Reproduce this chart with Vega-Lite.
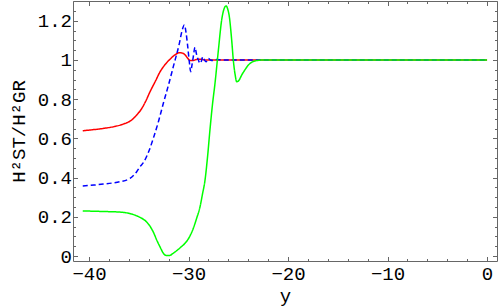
{
  "$schema": "https://vega.github.io/schema/vega-lite/v6.json",
  "autosize": "none",
  "width": 424,
  "height": 260,
  "padding": {"left": 73, "top": 1, "right": 2, "bottom": 47},
  "background": "white",
  "config": {
    "view": {"stroke": null},
    "axis": {"grid": false, "domainColor": "#666", "tickColor": "#666", "domainWidth": 1, "tickWidth": 1}
  },
  "data": {"values": [
    {"s":"a","x":-40.63,"v":0.639},{"s":"a","x":-39.5,"v":0.645},{"s":"a","x":-38.56,"v":0.651},{"s":"a","x":-37.5,"v":0.66},{"s":"a","x":-36.55,"v":0.673},{"s":"a","x":-35.71,"v":0.694},{"s":"a","x":-35.2,"v":0.72},{"s":"a","x":-34.8,"v":0.745},{"s":"a","x":-34.3,"v":0.79},{"s":"a","x":-33.87,"v":0.838},{"s":"a","x":-33.3,"v":0.895},{"s":"a","x":-32.86,"v":0.94},{"s":"a","x":-32.3,"v":0.98},{"s":"a","x":-31.86,"v":1.004},{"s":"a","x":-31.4,"v":1.025},{"s":"a","x":-30.92,"v":1.037},{"s":"a","x":-30.6,"v":1.035},{"s":"a","x":-30.35,"v":1.026},{"s":"a","x":-30.1,"v":1.01},{"s":"a","x":-29.85,"v":0.997},{"s":"a","x":-29.5,"v":0.998},{"s":"a","x":-29.18,"v":1.003},{"s":"a","x":-28.8,"v":1.004},{"s":"a","x":-28.3,"v":1.0},{"s":"a","x":-27,"v":1.0},{"s":"a","x":0,"v":1.0},
    {"s":"b","x":-40.63,"v":0.357},{"s":"b","x":-39.5,"v":0.362},{"s":"b","x":-38.56,"v":0.367},{"s":"b","x":-37.7,"v":0.372},{"s":"b","x":-36.88,"v":0.379},{"s":"b","x":-35.88,"v":0.396},{"s":"b","x":-35.21,"v":0.43},{"s":"b","x":-34.87,"v":0.456},{"s":"b","x":-34.54,"v":0.476},{"s":"b","x":-33.94,"v":0.541},{"s":"b","x":-33.54,"v":0.6},{"s":"b","x":-33.0,"v":0.69},{"s":"b","x":-32.53,"v":0.779},{"s":"b","x":-32.0,"v":0.875},{"s":"b","x":-31.53,"v":0.966},{"s":"b","x":-30.92,"v":1.085},{"s":"b","x":-30.65,"v":1.15},{"s":"b","x":-30.42,"v":1.179},{"s":"b","x":-30.25,"v":1.14},{"s":"b","x":-30.08,"v":1.068},{"s":"b","x":-29.92,"v":0.99},{"s":"b","x":-29.78,"v":0.94},{"s":"b","x":-29.65,"v":0.975},{"s":"b","x":-29.52,"v":1.017},{"s":"b","x":-29.35,"v":1.065},{"s":"b","x":-29.2,"v":1.03},{"s":"b","x":-29.01,"v":1.0},{"s":"b","x":-28.84,"v":0.983},{"s":"b","x":-28.7,"v":0.995},{"s":"b","x":-28.57,"v":1.017},{"s":"b","x":-28.4,"v":1.0},{"s":"b","x":-28.24,"v":0.991},{"s":"b","x":-28.0,"v":1.008},{"s":"b","x":-27.8,"v":1.0},{"s":"b","x":-27.5,"v":0.997},{"s":"b","x":-27.2,"v":1.002},{"s":"b","x":-26.5,"v":1.0},{"s":"b","x":0,"v":1.0},
    {"s":"c","x":-40.63,"v":0.23},{"s":"c","x":-38.5,"v":0.227},{"s":"c","x":-36.88,"v":0.224},{"s":"c","x":-35.71,"v":0.214},{"s":"c","x":-34.87,"v":0.197},{"s":"c","x":-34.3,"v":0.178},{"s":"c","x":-33.87,"v":0.152},{"s":"c","x":-33.5,"v":0.118},{"s":"c","x":-33.2,"v":0.082},{"s":"c","x":-32.85,"v":0.045},{"s":"c","x":-32.53,"v":0.014},{"s":"c","x":-32.2,"v":0.002},{"s":"c","x":-31.93,"v":0.002},{"s":"c","x":-31.6,"v":0.012},{"s":"c","x":-31.19,"v":0.027},{"s":"c","x":-30.8,"v":0.044},{"s":"c","x":-30.35,"v":0.065},{"s":"c","x":-29.9,"v":0.098},{"s":"c","x":-29.52,"v":0.141},{"s":"c","x":-29.2,"v":0.19},{"s":"c","x":-28.84,"v":0.252},{"s":"c","x":-28.6,"v":0.315},{"s":"c","x":-28.34,"v":0.388},{"s":"c","x":-28.1,"v":0.5},{"s":"c","x":-27.84,"v":0.647},{"s":"c","x":-27.6,"v":0.77},{"s":"c","x":-27.34,"v":0.881},{"s":"c","x":-27.0,"v":1.05},{"s":"c","x":-26.67,"v":1.204},{"s":"c","x":-26.45,"v":1.258},{"s":"c","x":-26.23,"v":1.276},{"s":"c","x":-26.05,"v":1.258},{"s":"c","x":-25.9,"v":1.221},{"s":"c","x":-25.66,"v":1.1},{"s":"c","x":-25.5,"v":1.0},{"s":"c","x":-25.3,"v":0.92},{"s":"c","x":-25.16,"v":0.889},{"s":"c","x":-24.95,"v":0.895},{"s":"c","x":-24.66,"v":0.923},{"s":"c","x":-24.3,"v":0.952},{"s":"c","x":-23.99,"v":0.974},{"s":"c","x":-23.6,"v":0.99},{"s":"c","x":-23.15,"v":0.997},{"s":"c","x":-22.5,"v":1.0},{"s":"c","x":0,"v":1.0}
  ]},
  "resolve": {"axis": {"x": "independent", "y": "independent"}},
  "layer": [
    {
      "mark": {"type": "line", "strokeOpacity": 0},
      "encoding": {
        "x": {"field": "x", "type": "quantitative", "scale": {"domain": [-41.61, 1.0], "nice": false, "zero": false},
              "axis": {"orient": "bottom", "values": [-38,-36,-34,-32,-28,-26,-24,-22,-18,-16,-14,-12,-8,-6,-4,-2], "labels": false, "domain": false, "tickSize": -2.5, "title": null}},
        "y": {"field": "v", "type": "quantitative", "scale": {"domain": [-0.0255, 1.301], "nice": false, "zero": false},
              "axis": {"orient": "left", "values": [0.05,0.1,0.15,0.25,0.3,0.35,0.45,0.5,0.55,0.65,0.7,0.75,0.85,0.9,0.95,1.05,1.1,1.15,1.25,1.3], "labels": false, "domain": false, "tickSize": -2.5, "title": null}}
      }
    },
    {
      "mark": {"type": "line", "strokeOpacity": 0},
      "encoding": {
        "x": {"field": "x", "type": "quantitative", "scale": {"domain": [-41.61, 1.0], "nice": false, "zero": false},
              "axis": {"orient": "top", "values": [-40,-30,-20,-10,0], "labels": false, "domain": true, "tickSize": -4.5, "title": null}},
        "y": {"field": "v", "type": "quantitative", "scale": {"domain": [-0.0255, 1.301], "nice": false, "zero": false},
              "axis": {"orient": "right", "values": [0,0.2,0.4,0.6,0.8,1,1.2], "labels": false, "domain": true, "tickSize": -4.5, "title": null}}
      }
    },
    {
      "mark": {"type": "line", "strokeOpacity": 0},
      "encoding": {
        "x": {"field": "x", "type": "quantitative", "scale": {"domain": [-41.61, 1.0], "nice": false, "zero": false},
              "axis": {"orient": "top", "values": [-38,-36,-34,-32,-28,-26,-24,-22,-18,-16,-14,-12,-8,-6,-4,-2], "labels": false, "domain": false, "tickSize": -2.5, "title": null}},
        "y": {"field": "v", "type": "quantitative", "scale": {"domain": [-0.0255, 1.301], "nice": false, "zero": false},
              "axis": {"orient": "right", "values": [0.05,0.1,0.15,0.25,0.3,0.35,0.45,0.5,0.55,0.65,0.7,0.75,0.85,0.9,0.95,1.05,1.1,1.15,1.25,1.3], "labels": false, "domain": false, "tickSize": -2.5, "title": null}}
      }
    },
    {
      "mark": {"type": "line", "strokeWidth": 1.5, "interpolate": "monotone"},
      "encoding": {
        "x": {"field": "x", "type": "quantitative", "scale": {"domain": [-41.61, 1.0], "nice": false, "zero": false},
              "axis": {"orient": "bottom", "values": [-40,-30,-20,-10,0], "format": "~f", "tickSize": -4.5, "labelPadding": 8, "title": "y", "titlePadding": 3,
                       "labelFont": "Liberation Mono", "labelFontSize": 19, "labelColor": "#000", "titleFont": "Liberation Mono", "titleFontSize": 19, "titleFontWeight": "normal", "titleColor": "#000"}},
        "y": {"field": "v", "type": "quantitative", "scale": {"domain": [-0.0255, 1.301], "nice": false, "zero": false},
              "axis": {"orient": "left", "values": [0,0.2,0.4,0.6,0.8,1,1.2], "format": "~f", "tickSize": -4.5, "labelPadding": 6, "title": "H²ST/H²GR", "titlePadding": 9,
                       "labelFont": "Liberation Mono", "labelFontSize": 19, "labelColor": "#000", "titleFont": "Liberation Mono", "titleFontSize": 19, "titleFontWeight": "normal", "titleColor": "#000"}},
        "color": {"field": "s", "type": "nominal", "scale": {"domain": ["a","b","c"], "range": ["#ff0000","#0000ff","#00ff00"]}, "legend": null},
        "strokeDash": {"field": "s", "type": "nominal", "scale": {"domain": ["a","b","c"], "range": [[1,0],[5,3],[1,0]]}, "legend": null}
      }
    }
  ]
}
